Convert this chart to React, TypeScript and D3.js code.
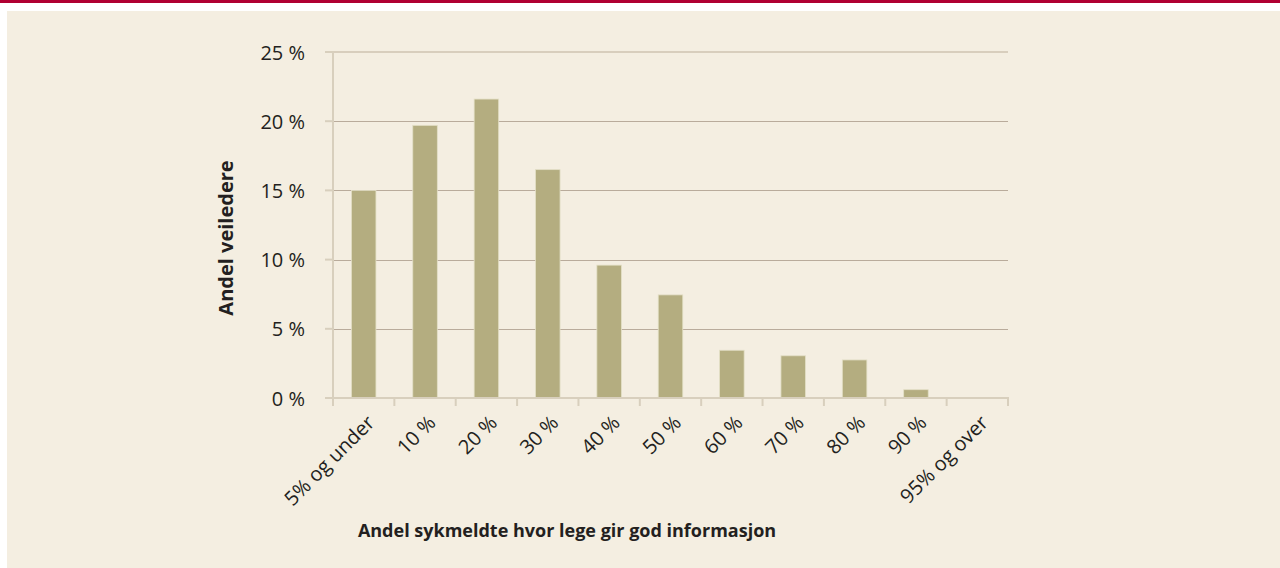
import React from "react";
import * as d3 from "d3";

const categories = ["5% og under", "10 %", "20 %", "30 %", "40 %", "50 %", "60 %", "70 %", "80 %", "90 %", "95% og over"];
const values = [15.0, 19.7, 21.6, 16.5, 9.6, 7.45, 3.45, 3.05, 2.75, 0.6, 0];
const yTicks = [0, 5, 10, 15, 20, 25];
const yTickLabels = ["0 %", "5 %", "10 %", "15 %", "20 %", "25 %"];
const xTitle = "Andel sykmeldte hvor lege gir god informasjon";
const yTitle = "Andel veiledere";

const W = 1280;
const H = 568;
const FONT = "'Open Sans', 'Noto Sans', sans-serif";
const TEXT = "#231f20";

export default function App() {
  const x = d3.scaleBand<string>().domain(categories).range([333, 1008]).paddingInner(0.6).paddingOuter(0.3);
  const y = d3.scaleLinear().domain([0, 25]).range([398, 52]);
  const step = x.step();
  const x0 = 333;
  const x1 = 1008;

  return (
    <svg width={W} height={H} style={{ position: "absolute", left: 0, top: 0, display: "block" }} fontFamily={FONT}>
      <rect x={0} y={0} width={W} height={H} fill="#ffffff" />
      <rect x={0} y={0} width={W} height={3} fill="#b00032" />
      <rect x={7} y={11} width={W - 7} height={H - 11} fill="#f4eee1" />

      {/* gridlines */}
      {yTicks.filter((t) => t > 0 && t < 25).map((t) => (
        <line key={t} x1={x0} x2={x1} y1={Math.round(y(t)) + 0.5} y2={Math.round(y(t)) + 0.5} stroke="#b9ab9b" strokeWidth={1} />
      ))}
      <line x1={x0} x2={x1} y1={y(25)} y2={y(25)} stroke="#d8cebd" strokeWidth={2} />

      {/* bars */}
      {categories.map((c, i) => (
        values[i] > 0 ? (
          <rect key={c} x={x(c)!} y={y(values[i])} width={x.bandwidth()} height={y(0) - y(values[i])}
            fill="#b4ad80" stroke="#e3dfc6" strokeWidth={0.8} />
        ) : null
      ))}

      {/* y axis */}
      <line x1={x0} x2={x0} y1={y(25) - 1} y2={y(0) + 1} stroke="#d8cfbd" strokeWidth={2} />
      {yTicks.map((t) => (
        <line key={"yt" + t} x1={325} x2={x0} y1={y(t)} y2={y(t)} stroke="#d8cfbd" strokeWidth={2} />
      ))}
      {yTicks.map((t, i) => (
        <text key={"yl" + t} x={305} y={y(t)} textAnchor="end" dominantBaseline="central" fontSize={20} fill={TEXT}>
          {yTickLabels[i]}
        </text>
      ))}

      {/* x axis */}
      <line x1={x0 - 8} x2={x1 + 1} y1={y(0)} y2={y(0)} stroke="#d8cfbd" strokeWidth={2} />
      {d3.range(categories.length + 1).map((i) => (
        <line key={"xt" + i} x1={x0 + i * step} x2={x0 + i * step} y1={y(0)} y2={y(0) + 8} stroke="#d8cfbd" strokeWidth={2} />
      ))}
      {categories.map((c) => {
        const cx = x(c)! + x.bandwidth() / 2 + 12;
        const cy = 424;
        return (
          <text key={"xl" + c} x={cx} y={cy} textAnchor="end" fontSize={20} fill={TEXT}
            transform={`rotate(-45 ${cx} ${cy})`}>
            {c}
          </text>
        );
      })}

      {/* titles */}
      <text x={567} y={530} textAnchor="middle" dominantBaseline="central" fontSize={18} fontWeight="bold" fill={TEXT}>
        {xTitle}
      </text>
      <text x={225} y={238} textAnchor="middle" dominantBaseline="central" fontSize={20} fontWeight="bold" fill={TEXT}
        transform="rotate(-90 225 238)">
        {yTitle}
      </text>
    </svg>
  );
}
